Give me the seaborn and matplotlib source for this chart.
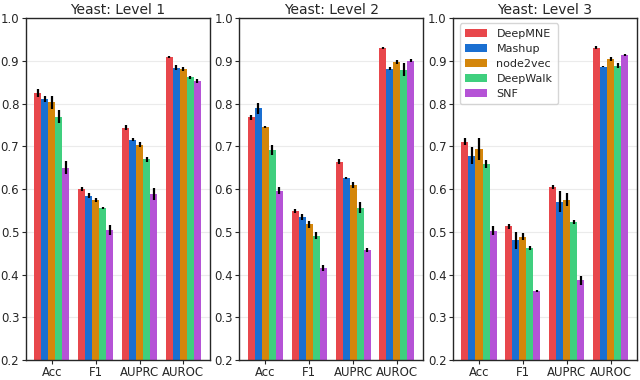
import numpy as np
import pandas as pd
import matplotlib
matplotlib.use("Agg")
import matplotlib.pyplot as plt
import seaborn as sns

# metrics and methods
metrics = ["Acc", "F1", "AUPRC", "AUROC"]
methods = ["DeepMNE", "Mashup", "node2vec", "DeepWalk", "SNF"]
colors = ["#e8474c", "#1a6fd1", "#d4860b", "#3fcf7e", "#b553d6"]
levels = ["Yeast: Level 1", "Yeast: Level 2", "Yeast: Level 3"]

# mean values, rows = methods, cols = metrics
level1_vals = [[0.825, 0.600, 0.744, 0.909],
               [0.811, 0.585, 0.716, 0.884],
               [0.803, 0.574, 0.704, 0.881],
               [0.770, 0.556, 0.670, 0.862],
               [0.650, 0.505, 0.589, 0.853]]
level1_err = [[0.010, 0.005, 0.006, 0.003],
              [0.008, 0.006, 0.004, 0.006],
              [0.015, 0.005, 0.006, 0.004],
              [0.015, 0.003, 0.006, 0.004],
              [0.015, 0.012, 0.014, 0.005]]

level2_vals = [[0.768, 0.549, 0.664, 0.931],
               [0.789, 0.535, 0.627, 0.882],
               [0.746, 0.518, 0.610, 0.898],
               [0.691, 0.491, 0.557, 0.880],
               [0.597, 0.415, 0.458, 0.901]]
level2_err = [[0.005, 0.004, 0.006, 0.002],
              [0.012, 0.006, 0.002, 0.004],
              [0.003, 0.008, 0.008, 0.004],
              [0.012, 0.008, 0.012, 0.015],
              [0.008, 0.007, 0.004, 0.004]]

level3_vals = [[0.711, 0.513, 0.606, 0.931],
               [0.678, 0.481, 0.571, 0.887],
               [0.694, 0.489, 0.576, 0.905],
               [0.659, 0.463, 0.523, 0.889],
               [0.503, 0.362, 0.387, 0.914]]
level3_err = [[0.008, 0.005, 0.005, 0.004],
              [0.020, 0.020, 0.025, 0.002],
              [0.025, 0.008, 0.015, 0.005],
              [0.010, 0.004, 0.005, 0.006],
              [0.010, 0.003, 0.010, 0.003]]

all_vals = [level1_vals, level2_vals, level3_vals]
all_errs = [level1_err, level2_err, level3_err]

sns.set_style("whitegrid", {"axes.edgecolor": "0.15", "grid.color": "#ebebeb",
                            "xtick.bottom": True, "ytick.left": True})
plt.rcParams["font.family"] = ["DejaVu Sans"]

fig, axes = plt.subplots(1, 3, figsize=(6.4, 3.8), dpi=100)
plt.subplots_adjust(left=0.04, right=0.995, bottom=0.052, top=0.952, wspace=0.16)

for ax, title, vals, errs in zip(axes, levels, all_vals, all_errs):
    rows = []
    for i, m in enumerate(methods):
        for j, met in enumerate(metrics):
            rows.append({"metric": met, "method": m, "value": vals[i][j], "err": errs[i][j]})
    df = pd.DataFrame(rows)
    sns.barplot(data=df, x="metric", y="value", hue="method", order=metrics,
                hue_order=methods, palette=colors, errorbar=None, width=0.8,
                saturation=1, linewidth=0, ax=ax, legend=(title == levels[2]))
    # error bars on top of each bar
    for k, m in enumerate(methods):
        cont = ax.containers[k]
        sub = df[df["method"] == m].set_index("metric").loc[metrics]
        xs = [p.get_x() + p.get_width() / 2 for p in cont.patches]
        ax.errorbar(xs, sub["value"], yerr=sub["err"], fmt="none", ecolor="black",
                    elinewidth=1.6, capsize=0, zorder=5)
    ax.set_ylim(0.2, 1.0)
    ax.set_xlim(-0.6, 3.6)
    ax.set_yticks(np.arange(0.2, 1.01, 0.1))
    ax.set_yticklabels([f"{t:.1f}" for t in np.arange(0.2, 1.01, 0.1)])
    ax.set_xlabel("")
    ax.set_ylabel("")
    ax.set_title(title, fontsize=10, pad=3)
    ax.tick_params(axis="both", labelsize=8.5, length=3, width=0.8, pad=1.5, color="0.15")
    for s in ax.spines.values():
        s.set_linewidth(1.0)

leg = axes[2].legend(loc="upper left", fontsize=8, frameon=True, borderpad=0.5,
                     handlelength=2.0, labelspacing=0.45, borderaxespad=0.3,
                     bbox_to_anchor=(0.02, 0.995))
leg.get_frame().set_edgecolor("0.8")

fig.savefig("out.png", dpi=100)
